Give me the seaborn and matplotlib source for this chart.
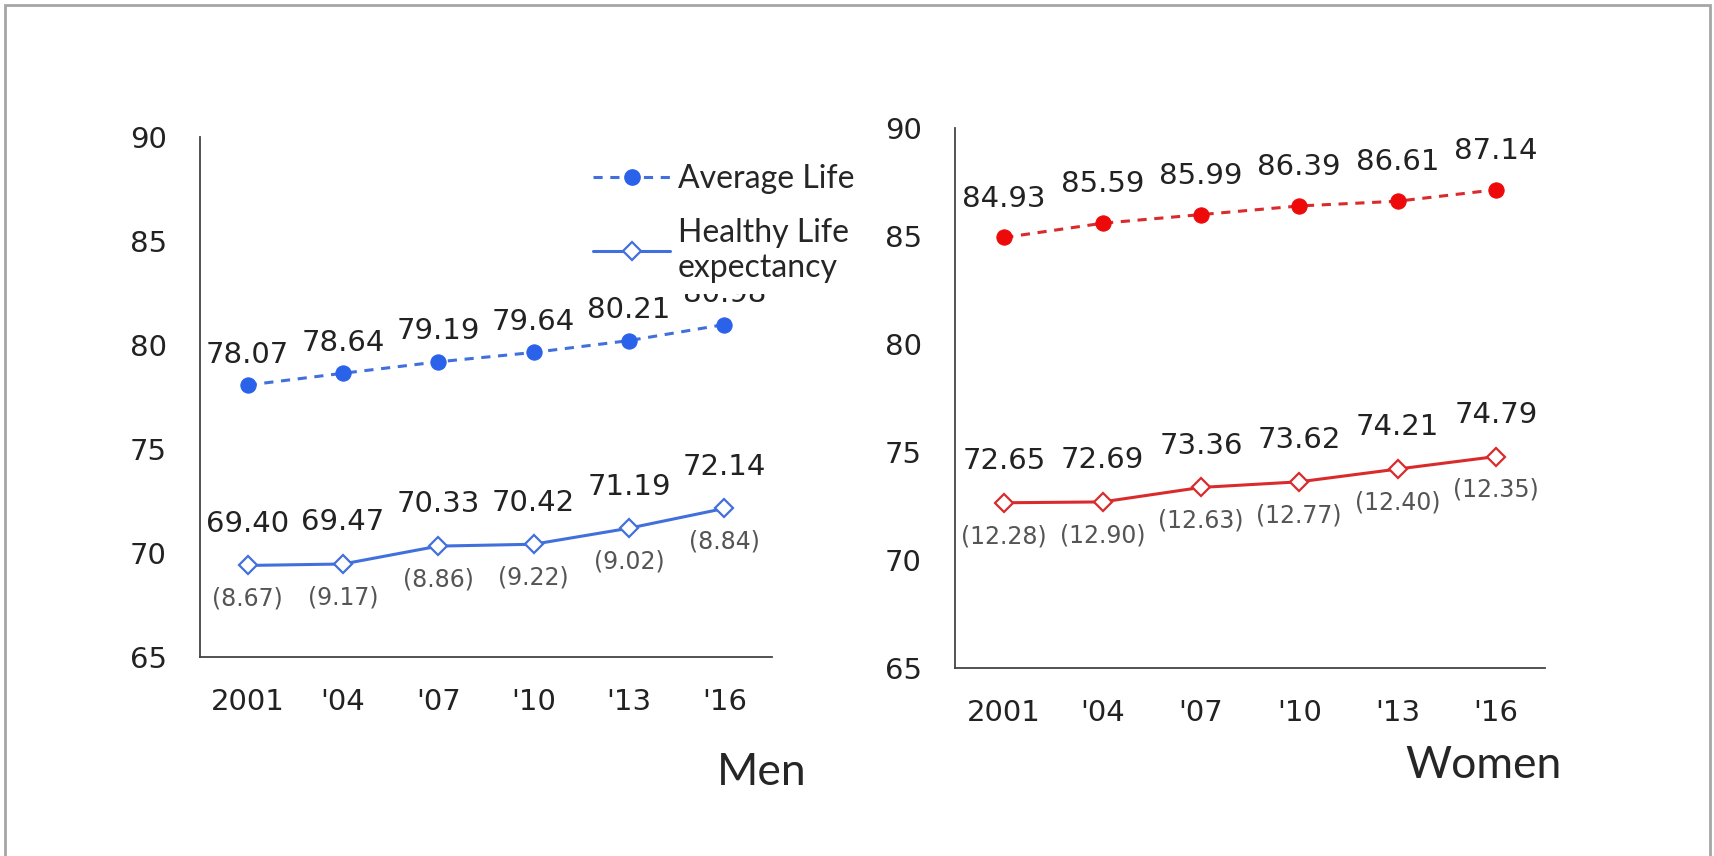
import numpy as np
import pandas as pd
import seaborn as sns
import matplotlib.pyplot as plt
from matplotlib.patches import Rectangle
from matplotlib.lines import Line2D

# life expectancy, Japan
years = ['2001', "'04", "'07", "'10", "'13", "'16"]
men_avg = [78.07, 78.64, 79.19, 79.64, 80.21, 80.98]
men_healthy = [69.40, 69.47, 70.33, 70.42, 71.19, 72.14]
men_gap = [8.67, 9.17, 8.86, 9.22, 9.02, 8.84]
women_avg = [84.93, 85.59, 85.99, 86.39, 86.61, 87.14]
women_healthy = [72.65, 72.69, 73.36, 73.62, 74.21, 74.79]
women_gap = [12.28, 12.90, 12.63, 12.77, 12.40, 12.35]
yticks = [65, 70, 75, 80, 85, 90]

sns.set_style('white')
plt.rcParams['font.family'] = ['DejaVu Sans']

fig = plt.figure(figsize=(17.15, 8.56), dpi=100)
ax_m = fig.add_axes([0.1166, 0.2325, 0.3335, 0.6075])
ax_w = fig.add_axes([0.5569, 0.2196, 0.3440, 0.6309])

# grey slide frame
fig.patches.append(Rectangle((0.003, -0.02), 0.994, 1.014, transform=fig.transFigure,
                             fill=False, edgecolor='#a6a6a6', linewidth=2))

pos = np.arange(len(years))
df = pd.DataFrame({'pos': pos, 'men_avg': men_avg, 'men_healthy': men_healthy,
                   'women_avg': women_avg, 'women_healthy': women_healthy})


def draw_panel(ax, avg_col, hl_col, gaps, c_pt, c_line, avg_off):
    sns.lineplot(data=df, x='pos', y=avg_col, ax=ax, color=c_line, linewidth=2.2,
                 linestyle=(0, (3, 2.5)), marker='o', markersize=11,
                 markerfacecolor=c_pt, markeredgecolor=c_pt, zorder=3)
    sns.lineplot(data=df, x='pos', y=hl_col, ax=ax, color=c_line, linewidth=2.2,
                 marker='D', markersize=9, markerfacecolor='white',
                 markeredgecolor=c_line, markeredgewidth=1.6, zorder=3)
    for x, v in zip(pos, df[avg_col]):
        ax.annotate(f'{v:.2f}', (x, v), xytext=(0, avg_off), textcoords='offset points',
                    ha='center', va='center', fontsize=21, color='#222222')
    for x, v, g in zip(pos, df[hl_col], gaps):
        ax.annotate(f'{v:.2f}', (x, v), xytext=(0, 30), textcoords='offset points',
                    ha='center', va='center', fontsize=21, color='#222222')
        ax.annotate(f'({g:.2f})', (x, v), xytext=(0, -24), textcoords='offset points',
                    ha='center', va='center', fontsize=17, color='#555555')

    ax.set_xlim(-0.5, 5.5)
    ax.set_ylim(65, 90)
    ax.set_yticks(yticks)
    ax.set_xticks(pos + 0.5)
    ax.set_xticklabels([])
    ax.set_xticks(pos, minor=True)
    ax.set_xticklabels(years, minor=True)
    ax.tick_params(axis='x', which='major', direction='in', length=9, width=1.3, color='#444444')
    ax.tick_params(axis='x', which='minor', length=0, pad=22, labelsize=21, labelcolor='#222222')
    ax.tick_params(axis='y', direction='in', length=9, width=1.3, color='#444444',
                   pad=24, labelsize=21, labelcolor='#222222')
    sns.despine(ax=ax)
    for s in ['left', 'bottom']:
        ax.spines[s].set_color('#444444')
        ax.spines[s].set_linewidth(1.3)
    ax.set_xlabel('')
    ax.set_ylabel('')


draw_panel(ax_m, 'men_avg', 'men_healthy', men_gap, '#2a62ea', '#4170dd', 22)
draw_panel(ax_w, 'women_avg', 'women_healthy', women_gap, '#ee0a0a', '#d92b2b', 28)

# legend sits on a white box, hiding most of the last men's label as in the source
handles = [Line2D([], [], color='#4170dd', lw=2.2, ls=(0, (3, 2.5)), marker='o', ms=11,
                  mfc='#2a62ea', mec='#2a62ea'),
           Line2D([], [], color='#4170dd', lw=2.2, marker='D', ms=9, mfc='white',
                  mec='#4170dd', mew=1.6)]
leg = ax_m.legend(handles, ['Average Life', 'Healthy Life\nexpectancy'],
                  loc='upper left', bbox_to_anchor=(0.64, 1.0), frameon=True,
                  facecolor='white', edgecolor='none', framealpha=1, fancybox=False,
                  handlelength=2.4, handletextpad=0.25, borderpad=0.35, labelspacing=0.75,
                  prop={'family': 'Lato', 'size': 23})
leg.set_zorder(10)

fig.text(0.444, 0.097, 'Men', fontsize=32, family='Lato', ha='center', va='center')
fig.text(0.865, 0.106, 'Women', fontsize=32, family='Lato', ha='center', va='center')

fig.savefig('out.png', dpi=100)
